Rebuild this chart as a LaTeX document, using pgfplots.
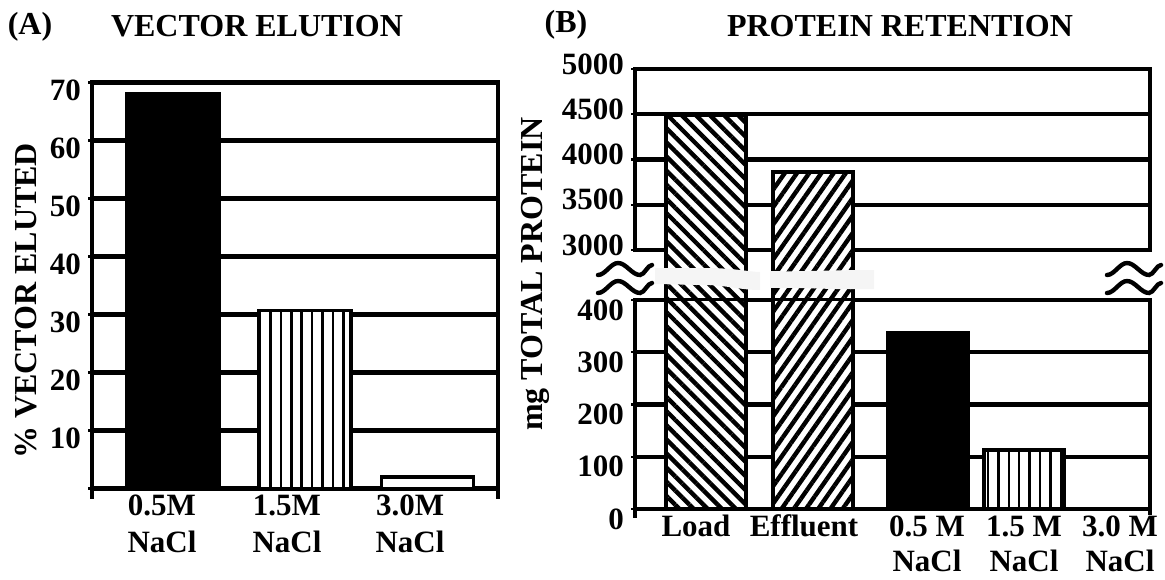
\documentclass[border=0pt]{standalone}
\usepackage{fontspec}
\setmainfont{Liberation Serif}
\usepackage{pgfplots}
\pgfplotsset{compat=1.18}
\usetikzlibrary{patterns.meta}

\pgfplotsset{
  common/.style={
    scale only axis,
    anchor=south west,
    axis line style={draw=none},
    ymajorgrids,
    grid style={line width=2.2pt, black},
    tick align=outside,
    ytick pos=left,
    xtick pos=bottom,
    major tick length=2pt,
    y tick style={line width=1.2pt, black},
    x tick style={draw=none},
    /pgf/number format/assume math mode=true,
  },
  barA/.style={ybar, bar shift=0pt, bar width=0.92, draw=black, line width=1.7pt},
  barB/.style={ybar, bar shift=0pt, bar width=0.80, draw=black, line width=2pt},
}

\begin{document}
\begin{tikzpicture}
\begin{scope}[x=0.5pt,y=-0.5pt,yshift=289.5pt]
\useasboundingbox (0,0) rectangle (1165,579);
\end{scope}

% ---------------- Panel A ----------------
\begin{axis}[common,
  at={(46pt,45.25pt)}, width=203pt, height=203pt,
  xmin=0, xmax=4.06, ymin=0, ymax=70,
  ytick={0,10,...,70}, yticklabels={,10,20,30,40,50,60,70},
  yticklabel style={font=\fontsize{15.5}{17}\selectfont\bfseries, yshift=-4pt},
  xtick={0.70,1.95,3.18},
  xticklabels={\strut 0.5M\\NaCl,\strut 1.5M\\NaCl,\strut 3.0M\\NaCl},
  xticklabel style={font=\fontsize{15.5}{18.5}\selectfont\bfseries, align=center, inner sep=0pt, anchor=north, yshift=1.75pt},
]
\addplot[barA, fill=black] coordinates {(0.81,68.0)};
\addplot[barA, preaction={fill=white}, pattern={Lines[angle=90,distance=5.2pt,line width=1.3pt]}, pattern color=black] coordinates {(2.13,30.7)};
\addplot[barA, fill=white] coordinates {(3.355,2.0)};
\end{axis}

% ---------------- Panel B, lower part ----------------
\begin{axis}[common,
  at={(317.5pt,35pt)}, width=257.5pt, height=104.5pt,
  xmin=0, xmax=5.15, ymin=0, ymax=400,
  ytick={0,100,...,400}, yticklabels={0,100,200,300,400},
  yticklabel style={font=\fontsize{15.5}{18}\selectfont\bfseries, yshift=-5pt},
  xtick={0.61,1.69,2.92,3.89,4.85},
  xticklabels={\strut Load,\strut Effluent,\strut 0.5 M\\NaCl,\strut 1.5 M\\NaCl,\strut 3.0 M\\NaCl},
  xticklabel style={font=\fontsize{15.5}{17.5}\selectfont\bfseries, align=center, inner sep=0pt, anchor=north, yshift=0.75pt},
]
\addplot[barB, preaction={fill=white}, pattern={Lines[angle=-45,distance=5pt,line width=2.2pt]}, pattern color=black] coordinates {(0.71,4490)};
\addplot[barB, preaction={fill=white}, pattern={Lines[angle=55,distance=5pt,line width=2.2pt]}, pattern color=black] coordinates {(1.775,3865)};
\addplot[barB, fill=black] coordinates {(2.925,337)};
\addplot[barB, preaction={fill=white}, pattern={Lines[angle=90,distance=5.2pt,line width=1.2pt]}, pattern color=black] coordinates {(3.89,113)};
\addplot[barB, fill=white] coordinates {(4.85,0)};
\end{axis}

% ---------------- Panel B, upper part ----------------
\begin{axis}[common,
  at={(317.5pt,139.5pt)}, width=257.5pt, height=115.5pt,
  xmin=0, xmax=5.15, ymin=2447.5, ymax=5000,
  ytick={3000,3500,...,5000}, yticklabels={3000,3500,4000,4500,5000},
  yticklabel style={font=\fontsize{15.5}{18}\selectfont\bfseries, yshift=2.5pt},
  xtick=\empty,
]
\addplot[barB, preaction={fill=white}, pattern={Lines[angle=-45,distance=5pt,line width=2.2pt]}, pattern color=black] coordinates {(0.71,4490)};
\addplot[barB, preaction={fill=white}, pattern={Lines[angle=55,distance=5pt,line width=2.2pt]}, pattern color=black] coordinates {(1.775,3865)};
\end{axis}

% ---------------- frames, break marks, titles ----------------
\begin{scope}[x=0.5pt,y=-0.5pt,yshift=289.5pt]
\draw[line width=2.3pt, line cap=rect] (92,497) -- (92,82.5);
\draw[line width=2.3pt, line cap=rect] (498,497) -- (498,82.5);
\draw[line width=2.3pt, line cap=rect] (635,250) -- (635,69);
\draw[line width=2.3pt, line cap=rect] (1150,250) -- (1150,69);
\draw[line width=2.3pt, line cap=rect] (635,516) -- (635,300);
\draw[line width=2.3pt, line cap=rect] (1150,513) -- (1150,300);
% white patches across the broken bars
\fill[black!4] (655,268) -- (705,268) .. controls (735,268) and (750,272) .. (760,272) -- (760,290) .. controls (740,290) and (725,285) .. (705,285) -- (655,284) -- cycle;
\fill[black!4] (770,271) .. controls (800,272) and (830,270) .. (874,270) -- (874,289) .. controls (830,290) and (800,287) .. (770,288) -- cycle;
% break marks
\foreach \dx in {0,509}{
  \foreach \dy in {0,18}{
    \draw[line width=2.2pt, line cap=round] (598+\dx,275+\dy) cos (608+\dx,269+\dy) sin (618+\dx,263+\dy) cos (629+\dx,269+\dy) sin (640+\dx,275+\dy) cos (646+\dx,270+\dy) sin (652+\dx,265+\dy);
  }
}
% titles and axis labels
\node[anchor=base, font=\fontsize{16}{19}\selectfont\bfseries] at (30,35) {(A)};
\node[anchor=base, font=\fontsize{16}{19}\selectfont\bfseries] at (257,37) {VECTOR ELUTION};
\node[anchor=base, font=\fontsize{16}{19}\selectfont\bfseries] at (566,33) {(B)};
\node[anchor=base, font=\fontsize{16}{19}\selectfont\bfseries] at (900,37) {PROTEIN RETENTION};
\node[rotate=90, font=\fontsize{16}{19}\selectfont\bfseries] at (26,301) {\% VECTOR ELUTED};
\node[rotate=90, font=\fontsize{16}{19}\selectfont\bfseries] at (535,274) {mg TOTAL PROTEIN};
\end{scope}
\end{tikzpicture}
\end{document}
